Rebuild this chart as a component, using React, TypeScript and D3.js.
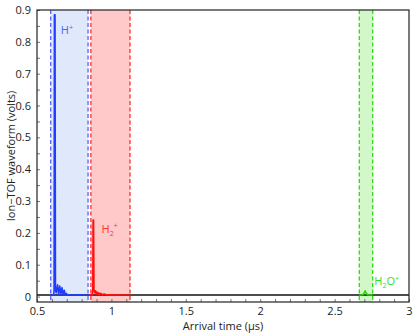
import * as d3 from 'd3';
import { useEffect, useRef } from 'react';

// time (µs), signal (volts)
const hPlusTrace: [number, number][] = [
    [0.59, 0.005], [0.612, 0.005], [0.615, 0.02], [0.617, 0.885], [0.621, 0.885], [0.624, 0.02],
    [0.629, 0.012], [0.634, 0.025], [0.638, 0.037], [0.645, 0.008], [0.653, 0.033], [0.66, 0.007],
    [0.668, 0.028], [0.675, 0.006], [0.683, 0.02], [0.69, 0.005], [0.697, 0.01], [0.705, 0.005],
    [0.72, 0.006], [0.75, 0.005], [0.78, 0.006], [0.8, 0.005], [0.845, 0.005]
];
const h2PlusTrace: [number, number][] = [
    [0.855, 0.005], [0.872, 0.005], [0.875, 0.02], [0.877, 0.24], [0.88, 0.24], [0.883, 0.02],
    [0.889, 0.012], [0.894, 0.018], [0.899, 0.008], [0.905, 0.014], [0.91, 0.006], [0.915, 0.012],
    [0.92, 0.006], [0.93, 0.01], [0.94, 0.005], [0.95, 0.008], [0.97, 0.005], [1.0, 0.006],
    [1.05, 0.005], [1.125, 0.005]
];
const h2oPlusTrace: [number, number][] = [
    [2.665, 0.005], [2.69, 0.006], [2.7, 0.012], [2.705, 0.018], [2.712, 0.012], [2.72, 0.006], [2.755, 0.005]
];
const baseTrace: [number, number][] = [[0.5, 0.005], [3, 0.005]];

// gate windows (µs)
const windows = [
    { name: 'H+', from: 0.592, to: 0.843 },
    { name: 'H2+', from: 0.862, to: 1.125 },
    { name: 'H2O+', from: 2.666, to: 2.756 }
];

const xTicks = [0.5, 1, 1.5, 2, 2.5, 3];
const yTicks = [0, 0.1, 0.2, 0.3, 0.4, 0.5, 0.6, 0.7, 0.8, 0.9];

export default function App() {
    const ref = useRef<HTMLDivElement>(null);

    useEffect(() => {
        const width = 416;
        const height = 334;
        const margin = { top: 10, right: 7, bottom: 32, left: 37 };
        const font = '"Open Sans", sans-serif';

        const colors = {
            'H+': { line: '#1f3cff', fill: '#dfe9fb', dash: '#5a60ff', text: '#4466ff' },
            'H2+': { line: '#ff1010', fill: '#ffc9c9', dash: '#ff3030', text: '#ff3333' },
            'H2O+': { line: '#22dd00', fill: '#d2f7c8', dash: '#2edc10', text: '#33dd22' }
        };

        const svg = d3
            .create('svg')
            .attr('width', width)
            .attr('height', height)
            .style('position', 'absolute')
            .style('left', 0)
            .style('top', 0)
            .style('font-family', font);

        const x = d3.scaleLinear().domain([0.5, 3]).range([margin.left, width - margin.right]);
        const y = d3.scaleLinear().domain([-0.017, 0.9]).range([height - margin.bottom, margin.top]);
        const top = y(0.9);
        const bottom = y(-0.017);

        // gate windows
        windows.forEach(w => {
            const c = colors[w.name];
            svg.append('rect')
                .attr('x', x(w.from))
                .attr('y', top)
                .attr('width', x(w.to) - x(w.from))
                .attr('height', bottom - top)
                .attr('fill', c.fill);
        });

        const line = d3.line<[number, number]>().x(d => x(d[0])).y(d => y(d[1]));

        svg.append('path')
            .attr('d', line(baseTrace))
            .attr('fill', 'none')
            .attr('stroke', '#111')
            .attr('stroke-width', 1.6);

        windows.forEach(w => {
            const c = colors[w.name];
            [w.from, w.to].forEach(t => {
                svg.append('line')
                    .attr('x1', x(t)).attr('x2', x(t))
                    .attr('y1', top).attr('y2', bottom)
                    .attr('stroke', c.dash)
                    .attr('stroke-width', 1.3)
                    .attr('stroke-dasharray', '4,2.5');
            });
        });

        const traces: [string, [number, number][]][] = [
            ['H+', hPlusTrace],
            ['H2+', h2PlusTrace],
            ['H2O+', h2oPlusTrace]
        ];
        traces.forEach(([name, data]) => {
            svg.append('path')
                .attr('d', line(data))
                .attr('fill', 'none')
                .attr('stroke', colors[name].line)
                .attr('stroke-width', 1.6)
                .attr('stroke-linejoin', 'round');
        });

        // axes: ticks pointing inward
        const xAxis = d3.axisBottom(x).tickValues(xTicks).tickSize(0).tickPadding(5)
            .tickFormat(d => d3.format('')(+d));
        const gx = svg.append('g')
            .attr('transform', `translate(0,${bottom})`)
            .call(xAxis);
        gx.select('.domain').remove();
        gx.selectAll('text').attr('font-size', 11).attr('font-family', font).attr('fill', '#222');

        const xMinor = d3.axisTop(x).tickValues(d3.range(5, 31).map(v => v / 10)).tickSize(3).tickFormat(() => '');
        const gxm = svg.append('g').attr('transform', `translate(0,${bottom})`).call(xMinor);
        gxm.select('.domain').remove();
        gxm.selectAll('line').attr('stroke', '#555').attr('stroke-width', 0.8);

        const yAxis = d3.axisLeft(y).tickValues(yTicks).tickSize(0).tickPadding(6)
            .tickFormat(d => d3.format('')(+d));
        const gy = svg.append('g')
            .attr('transform', `translate(${margin.left},0)`)
            .call(yAxis);
        gy.select('.domain').remove();
        gy.selectAll('text').attr('font-size', 11).attr('font-family', font).attr('fill', '#222');

        const yMinor = d3.axisRight(y).tickValues(d3.range(0, 19).map(v => v * 0.05)).tickSize(3).tickFormat(() => '');
        const gym = svg.append('g').attr('transform', `translate(${margin.left},0)`).call(yMinor);
        gym.select('.domain').remove();
        gym.selectAll('line').attr('stroke', '#555').attr('stroke-width', 0.8);

        // frame
        svg.append('rect')
            .attr('x', margin.left)
            .attr('y', top)
            .attr('width', width - margin.right - margin.left)
            .attr('height', bottom - top)
            .attr('fill', 'none')
            .attr('stroke', '#222')
            .attr('stroke-width', 1.2);

        // ion labels
        const addLabel = (name: string, tx: number, ty: number, parts: [string, number][]) => {
            const t = svg.append('text')
                .attr('x', tx)
                .attr('y', ty)
                .attr('font-size', 11)
                .attr('fill', colors[name].text);
            parts.forEach(([s, dy]) => {
                const sp = t.append('tspan').text(s).attr('dy', dy);
                if (s === '+' || s === '2') sp.attr('font-size', 7);
            });
        };
        addLabel('H+', x(0.66), y(0.825), [['H', 0], ['+', -4]]);
        addLabel('H2+', x(0.934), y(0.2), [['H', 0], ['2', 3], ['+', -8]]);
        addLabel('H2O+', x(2.767), y(0.035), [['H', 0], ['2', 3], ['O', -3], ['+', -4]]);

        // axis titles
        svg.append('text')
            .attr('x', (margin.left + width - margin.right) / 2)
            .attr('y', height - 4)
            .attr('text-anchor', 'middle')
            .attr('font-size', 11)
            .attr('fill', '#222')
            .text('Arrival time (μs)');

        svg.append('text')
            .attr('transform', `translate(15,${(top + bottom) / 2}) rotate(-90)`)
            .attr('text-anchor', 'middle')
            .attr('font-size', 11)
            .attr('fill', '#222')
            .text('Ion−TOF waveform (volts)');

        ref.current?.append(svg.node()!);
        return () => { ref.current?.replaceChildren(); };
    }, []);

    return <div ref={ref}></div>;
}
